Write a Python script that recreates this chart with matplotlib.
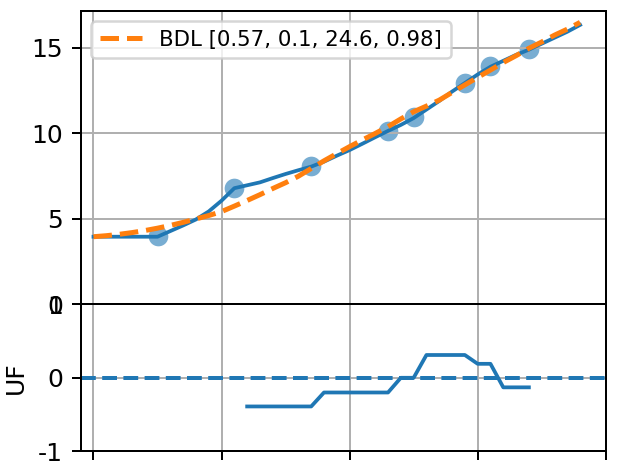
import matplotlib

matplotlib.use("Agg")
import matplotlib.pyplot as plt
import numpy as np

plt.rcParams["axes.unicode_minus"] = False

DPI = 180

# valores medidos en la figura (eje x sin etiquetas visibles)
x_obs = [25, 55, 85, 115, 125, 145, 155, 170]
y_obs = [4.0, 6.8, 8.08, 10.15, 10.95, 12.98, 13.92, 14.95]

x_curva = list(range(0, 195, 5))
y_suave = [3.96, 3.96, 3.96, 3.96, 3.96, 3.96, 4.29, 4.62, 4.97, 5.44,
           6.07, 6.8, 6.97, 7.14, 7.39, 7.63, 7.85, 8.06, 8.35, 8.7,
           9.03, 9.4, 9.78, 10.15, 10.5, 10.9, 11.4, 11.9, 12.45, 12.95,
           13.45, 13.9, 14.25, 14.6, 14.9, 15.25, 15.6, 15.95, 16.35]
y_bdl = [3.96, 4.02, 4.1, 4.2, 4.32, 4.46, 4.62, 4.8, 5.0, 5.2,
         5.43, 5.75, 6.08, 6.42, 6.78, 7.12, 7.5, 7.95, 8.4, 8.82,
         9.23, 9.62, 10.0, 10.4, 10.85, 11.27, 11.6, 11.95, 12.4, 12.84,
         13.28, 13.71, 14.15, 14.55, 14.98, 15.35, 15.75, 16.1, 16.5]
etiqueta_bdl = "BDL [0.57, 0.1, 24.6, 0.98]"

x_uf = list(range(60, 175, 5))
uf = [-0.39, -0.39, -0.39, -0.39, -0.39, -0.39, -0.2, -0.2, -0.2, -0.2,
      -0.2, -0.2, 0.0, 0.0, 0.31, 0.31, 0.31, 0.31, 0.19, 0.19,
      -0.13, -0.13, -0.13]

fig = plt.figure(figsize=(626 / DPI, 470 / DPI), dpi=DPI)
ax = fig.add_axes([0.1289, 0.3523, 0.8387, 0.6249])
ax2 = fig.add_axes([0.1289, 0.0398, 0.8387, 0.3128], sharex=ax)

ax.scatter(x_obs, y_obs, s=62, color="C0", alpha=0.6, linewidths=0)
ax.plot(x_curva, y_suave, color="C0", lw=1.5)
ax.plot(x_curva, y_bdl, "--", color="C1", lw=2, label=etiqueta_bdl)
ax.set_ylim(0, 17.18)
ax.set_yticks([0, 5, 10, 15])
ax.grid(True)
ax.legend(loc="upper left", fontsize=8.5)
ax.tick_params(labelbottom=False)

ax2.plot(x_uf, uf, color="C0", lw=1.5)
ax2.axhline(0, color="C0", ls="--", lw=1.6)
ax2.set_ylim(-1, 1)
ax2.set_yticks([-1, 0, 1])
ax2.set_xlim(-5, 200)
ax2.set_xticks([0, 50, 100, 150, 200])
ax2.grid(True)
ax2.set_ylabel("UF")
ax2.tick_params(labelbottom=False)

fig.savefig("out.png", dpi=DPI)
